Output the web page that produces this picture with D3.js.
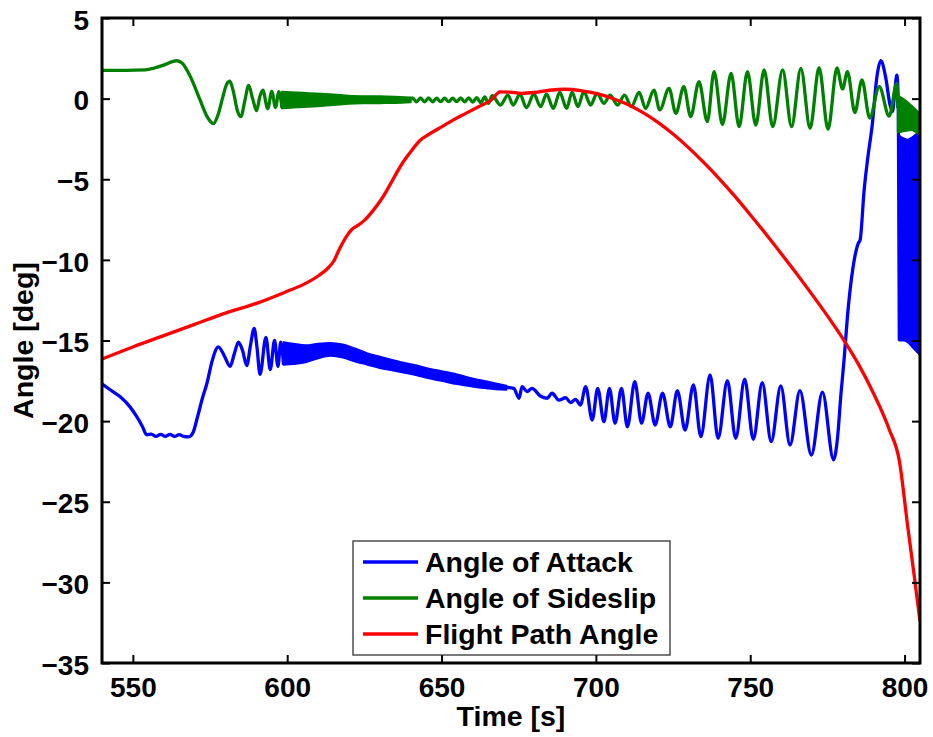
<!DOCTYPE html>
<html>
<head>
<meta charset="utf-8">
<script src="https://cdn.jsdelivr.net/npm/d3@7"></script>
<style>
  html, body { margin: 0; padding: 0; background: #ffffff; }
  svg { display: block; }
  text { font-family: "Liberation Sans", Arial, Helvetica, sans-serif; font-weight: bold; fill: #000; }
</style>
</head>
<body>
<svg id="chart" width="933" height="737"></svg>
<script>
// ---- axis ticks and labels ----
const xTicks = [550, 600, 650, 700, 750, 800];
const yTicks = [5, 0, -5, -10, -15, -20, -25, -30, -35];
const xDomain = [540, 805];
const yDomain = [-35, 5];
const xLabel = "Time [s]";
const yLabel = "Angle [deg]";

// ---- legend ----
const seriesNames = ["Angle of Attack", "Angle of Sideslip", "Flight Path Angle"];
const seriesColors = ["#0000ff", "#008000", "#ff0000"];

// ---- Angle of Attack [time, deg] ----
const aoaStart = [
  [540,-17.7],[543,-18.1],[546,-18.5],[549,-19.1],[551,-19.65],[553,-20.3],[554.5,-20.85],
  [556,-20.8],[557.5,-20.95],[559,-20.82],[560.5,-20.95],[562,-20.82],[563.5,-20.95],
  [565,-20.84],[566.5,-20.95],[568,-20.98],[569.5,-20.7],[571,-19.7],[572.5,-18.6],
  [574,-17.65],[575.5,-16.4],[576.6,-15.7],[577.7,-15.4],[579.5,-15.9],[581.5,-16.6],
  [582.9,-15.8],[584.2,-15.1],[585.5,-15.6],[586.9,-16.55],[588.1,-15.3],[589.3,-14.25],
  [590.2,-15.4],[591.2,-17.1],[593.1,-14.8],[594.5,-16.8],[595.9,-15.0],[597,-16.6],
  [597.9,-15.1],[598.8,-16.5]
];
// fast oscillation envelope [time, upper, lower]
const aoaBandMid = [
  [598.8,-15.1,-16.5],[602,-15.2,-16.45],[606,-15.3,-16.35],[610,-15.2,-16.1],
  [614,-15.15,-15.95],[618,-15.25,-16.05],[622,-15.5,-16.3],[626,-15.8,-16.5],
  [630,-16.0,-16.7],[634,-16.2,-16.85],[638,-16.4,-17.0],[642,-16.55,-17.15],
  [646,-16.75,-17.35],[650,-16.9,-17.5],[655,-17.1,-17.7],[660,-17.35,-17.85],
  [665,-17.55,-17.97],[671,-17.8,-18.05]
];
const aoaLate = [
  [671,-17.9],[673.4,-17.97],[675.1,-18.58],[676.1,-17.86],[677.7,-18.17],[679.3,-17.97],
  [682,-18.44],[684.2,-18.58],[685.8,-18.27],[688,-18.7],[690.2,-18.55],[691.8,-18.85],
  [693.4,-18.65],[695,-19.0],[696.7,-17.86],[698.8,-19.93],[700.6,-17.97],[702.6,-20.03],
  [704.4,-17.97],[706.2,-20.13],[708.3,-17.97],[710.2,-20.35],[712.6,-17.55],[714.8,-20.13],
  [716.9,-18.27],[719.2,-20.24],[721.6,-18.27],[724.1,-20.35],[726.4,-18.11],[728.9,-20.55],
  [731.6,-17.76],[734,-20.96],[737,-17.14],[739.6,-21.07],[742.6,-17.49],[745.3,-21.07],
  [748.2,-17.4],[751,-21.13],[753.9,-17.62],[756.8,-21.27],[759.9,-17.82],[762.9,-21.48],
  [766.1,-18.11],[769.8,-22.1],[773.4,-18.21],[777,-22.4],[778.3,-21.0],[779.4,-18.3],
  [780.4,-16.2],[781.5,-13.5],[783.2,-10.6],[785,-8.97],[785.6,-8.77],[786.9,-5.67],
  [788,-3.8],[789.6,-1.5],[791,1.3],[792.3,2.35],[793.9,1.3],[795.3,-0.4],[796.1,-0.8],
  [796.9,0.6],[797.5,1.45],[798.0,-0.5],[798.3,-15.0]
];
const aoaBandEnd = [
  [798.3,-2.3,-15.0],[799.5,-2.45,-15.0],[801,-2.55,-15.1],[802.5,-2.4,-15.4],
  [804,-2.2,-15.7],[805,-2.2,-15.9]
];

// ---- Angle of Sideslip [time, deg] ----
const betaStart = [
  [540,1.75],[548,1.75],[554,1.78],[557,1.9],[560,2.08],[564.2,2.35],[566,2.2],[568,1.6],
  [569.6,0.95],[571.8,-0.1],[574,-1.1],[576.1,-1.55],[577.6,-1.0],[579,0.0],[580.3,0.85],
  [581.4,1.08],[582.6,0.4],[583.8,-0.7],[585,-1.12],[586.3,-0.1],[587.5,0.82],[588.8,0.0],
  [590.1,-0.75],[591.1,0.1],[592.1,0.52],[593.7,-0.62],[595.0,0.45],[596.2,-0.55],
  [597.3,0.43],[598.3,-0.58]
];
const betaBandMid = [
  [598.3,0.43,-0.6],[603,0.38,-0.53],[607,0.34,-0.5],[611,0.3,-0.45],[615,0.26,-0.4],
  [620,0.18,-0.32],[625,0.15,-0.29],[630,0.14,-0.28],[635,0.11,-0.27],[640,0.07,-0.23]
];
const betaLate = [
  [640,-0.08],[640.6,0.05],[641.9,-0.2],[643.2,0.04],[644.5,-0.2],[645.8,0.04],[647.1,-0.2],
  [648.4,0.03],[649.7,-0.19],[651,0.03],[652.3,-0.19],[653.6,0.03],[654.9,-0.19],[656.2,0.04],
  [657.5,-0.2],[658.8,0.05],[660.1,-0.22],[661.4,0.06],[662.7,-0.25],[664,0.1],[665.2,-0.3],
  [666.4,0.18],[669.1,-0.4],[671.5,0.22],[673.2,-0.4],[675.4,0.27],[677.5,-0.56],
  [679.9,0.27],[682.1,-0.5],[684.0,0.27],[686.2,-0.6],[688.3,0.39],[690.5,-0.6],
  [692.3,0.39],[694.2,-0.5],[696.1,0.43],[698.3,-0.4],[700.4,0.33],[702.6,-0.29],
  [704.6,0.22],[707.0,-0.4],[709.3,0.22],[711.5,-0.5],[714.0,0.39],[716.1,-0.6],
  [718.8,0.53],[720.7,-0.7],[723.7,0.64],[725.9,-0.91],[728.5,0.74],[730.7,-1.12],
  [733.4,1.05],[736.1,-1.43],[738.3,1.67],[741.0,-1.6],[743.8,1.57],[746.4,-1.74],
  [749.1,1.67],[751.8,-1.64],[754.5,1.78],[757.3,-1.74],[760.5,1.78],[763.4,-1.74],
  [766.4,1.88],[769.4,-1.84],[772.3,1.92],[775.2,-1.9],[778.1,1.9],[779.9,0.6],
  [781.5,1.67],[783.9,-0.86],[786.2,1.16],[788.7,-1.2],[791.8,0.74],[795.0,-1.08],
  [797.5,0.95],[797.8,-0.6]
];
const betaBandEnd = [
  [797.8,0.2,-2.1],[799,0.05,-2.05],[800.5,-0.15,-2.0],[802,-0.4,-1.95],
  [803.5,-0.65,-2.05],[805,-0.95,-2.25]
];

// ---- Flight Path Angle [time, deg] ----
const gammaPath = [
  [540,-16.15],[550,-15.4],[560,-14.7],[570,-14.0],[580,-13.3],[590,-12.7],[600,-11.95],
  [605,-11.55],[610,-11.0],[613,-10.55],[615,-10.1],[617,-9.3],[619,-8.6],[621,-8.1],
  [623,-7.85],[625,-7.55],[628,-6.9],[631,-6.1],[634,-5.1],[637,-4.1],[640,-3.3],
  [643,-2.6],[646,-2.2],[650,-1.75],[654,-1.3],[658,-0.9],[662,-0.5],[666,-0.1],
  [669,0.42],[672,0.4],[676,0.33],[680,0.38],[685,0.52],[690,0.58],[695,0.5],[700,0.32],
  [705,0.04],[710,-0.34],[715,-0.84],[720,-1.46],[725,-2.2],[730,-3.04],[735,-3.97],
  [740,-4.97],[745,-6.05],[750,-7.2],[755,-8.38],[760,-9.6],[765,-10.85],[770,-12.14],
  [775,-13.47],[780,-14.88],[785,-16.45],[790,-18.3],[795,-20.5],[798.3,-22.45],
  [801,-26.5],[803,-29.4],[805,-32.4]
];

// ---- layout ----
const plot = { left: 102, right: 920, top: 18, bottom: 663 };
const svg = d3.select("#chart");

const x = d3.scaleLinear().domain(xDomain).range([plot.left, plot.right]);
const y = d3.scaleLinear().domain(yDomain).range([plot.bottom, plot.top]);

svg.append("defs").append("clipPath").attr("id", "plot-clip")
  .append("rect")
  .attr("x", plot.left).attr("y", plot.top)
  .attr("width", plot.right - plot.left).attr("height", plot.bottom - plot.top);

const dataLayer = svg.append("g").attr("clip-path", "url(#plot-clip)");

const line = d3.line()
  .x(d => x(d[0])).y(d => y(d[1]))
  .curve(d3.curveMonotoneX);

const band = d3.area()
  .x(d => x(d[0])).y0(d => y(d[2])).y1(d => y(d[1]))
  .curve(d3.curveMonotoneX);

const lineWidth = 3.3;

function drawSeries(lines, bands, color) {
  const g = dataLayer.append("g");
  bands.forEach(b => {
    g.append("path").datum(b).attr("d", band)
      .attr("fill", color).attr("stroke", color)
      .attr("stroke-width", 2).attr("stroke-linejoin", "round");
  });
  lines.forEach(l => {
    g.append("path").datum(l).attr("d", line)
      .attr("fill", "none").attr("stroke", color)
      .attr("stroke-width", lineWidth).attr("stroke-linejoin", "round");
  });
}

drawSeries([aoaStart, aoaLate], [aoaBandMid, aoaBandEnd], seriesColors[0]);
drawSeries([betaStart, betaLate], [betaBandMid, betaBandEnd], seriesColors[1]);
drawSeries([gammaPath], [], seriesColors[2]);

// ---- axes (box with inward ticks on all four sides) ----
const tickLen = 8;
const fmt = v => (v < 0 ? "\u2212" + Math.abs(v) : String(v));

const axisBottom = d3.axisBottom(x).tickValues(xTicks).tickSize(-tickLen).tickPadding(14).tickFormat(fmt);
const axisTop = d3.axisTop(x).tickValues(xTicks).tickSize(-tickLen).tickFormat("");
const axisLeft = d3.axisLeft(y).tickValues(yTicks).tickSize(-tickLen).tickPadding(13).tickFormat(fmt);
const axisRight = d3.axisRight(y).tickValues(yTicks).tickSize(-tickLen).tickFormat("");

function styleAxis(g) {
  g.select(".domain").remove();
  g.selectAll(".tick line").attr("stroke", "#000").attr("stroke-width", 2);
  g.selectAll(".tick text")
    .style("font-family", "'Liberation Sans', Arial, sans-serif")
    .style("font-weight", "bold").style("font-size", "28px").attr("fill", "#000");
}

svg.append("g").attr("transform", `translate(0,${plot.bottom})`).call(axisBottom).call(styleAxis);
svg.append("g").attr("transform", `translate(0,${plot.top})`).call(axisTop).call(styleAxis);
svg.append("g").attr("transform", `translate(${plot.left},0)`).call(axisLeft).call(styleAxis)
  .selectAll(".tick text").attr("dy", "0.4em");
svg.append("g").attr("transform", `translate(${plot.right},0)`).call(axisRight).call(styleAxis);

svg.append("rect")
  .attr("x", plot.left).attr("y", plot.top)
  .attr("width", plot.right - plot.left).attr("height", plot.bottom - plot.top)
  .attr("fill", "none").attr("stroke", "#000").attr("stroke-width", 3);

// ---- axis titles ----
svg.append("text")
  .attr("x", (plot.left + plot.right) / 2).attr("y", 726)
  .attr("text-anchor", "middle").style("font-size", "28.5px")
  .text(xLabel);

svg.append("text")
  .attr("transform", `translate(33,${(plot.top + plot.bottom) / 2}) rotate(-90)`)
  .attr("text-anchor", "middle").style("font-size", "28.5px")
  .text(yLabel);

// ---- legend ----
const legend = svg.append("g");
const lg = { x: 353, y: 541, w: 317, h: 114, rowTop: 562, rowGap: 36 };
legend.append("rect")
  .attr("x", lg.x).attr("y", lg.y).attr("width", lg.w).attr("height", lg.h)
  .attr("fill", "#fff").attr("stroke", "#222").attr("stroke-width", 1.2);

seriesNames.forEach((name, i) => {
  const cy = lg.rowTop + i * lg.rowGap;
  legend.append("line")
    .attr("x1", 363).attr("x2", 418).attr("y1", cy).attr("y2", cy)
    .attr("stroke", seriesColors[i]).attr("stroke-width", lineWidth);
  legend.append("text")
    .attr("x", 425).attr("y", cy + 10)
    .style("font-size", "28.5px")
    .text(name);
});
</script>
</body>
</html>
